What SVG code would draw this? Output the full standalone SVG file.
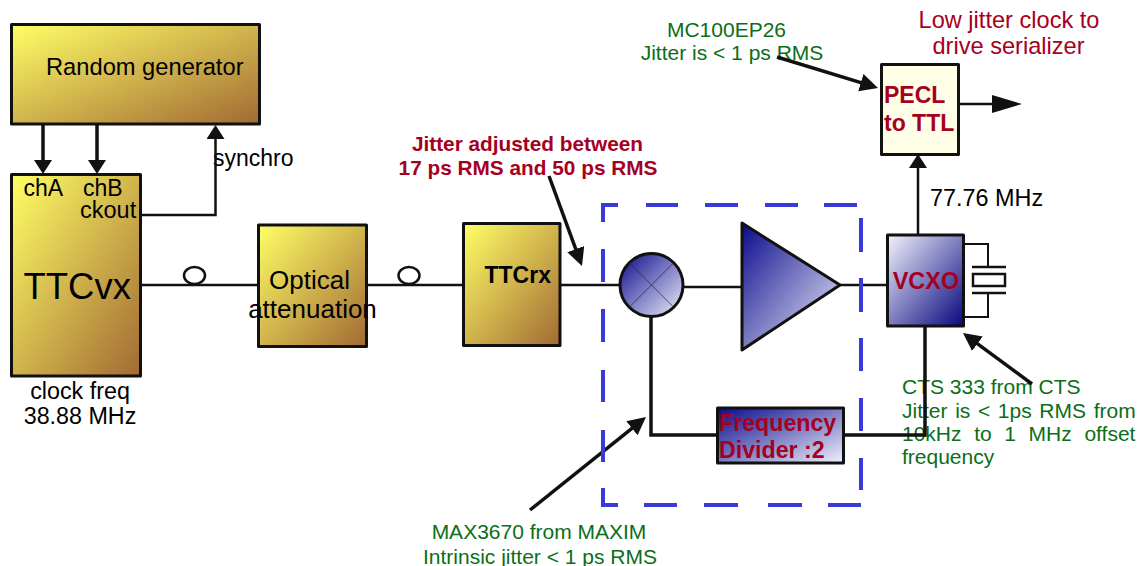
<svg xmlns="http://www.w3.org/2000/svg" width="1146" height="566" viewBox="0 0 1146 566">
<style>
text{font-family:"Liberation Sans",Arial,sans-serif;fill:#000}
.c{text-anchor:middle}
.g{fill:#0b6e18;font-size:21px}
.r{fill:#a50021}
.b{font-weight:bold}
.box{stroke:#111;stroke-width:3;stroke-linejoin:round}
.l2{fill:none;stroke:#111;stroke-width:2.5}
.l3{fill:none;stroke:#111;stroke-width:3.5}
.d{fill:none;stroke:#3a3ad8;stroke-width:4}
</style>
<defs>
<linearGradient id="gold" x1="0" y1="0" x2="1" y2="1"><stop offset="0" stop-color="#ffff66"/><stop offset="1" stop-color="#a26a33"/></linearGradient>
<linearGradient id="dk" x1="0" y1="0" x2="1" y2="1"><stop offset="0" stop-color="#0a0a8c"/><stop offset="1" stop-color="#f0f0fc"/></linearGradient>
<linearGradient id="lt" x1="0" y1="0" x2="1" y2="1"><stop offset="0" stop-color="#f4f4fe"/><stop offset="1" stop-color="#06067f"/></linearGradient>
<marker id="a" markerUnits="userSpaceOnUse" markerWidth="18" markerHeight="20" refX="8" refY="9" orient="auto"><path d="M0 0L14 9L0 18Z" fill="#111"/></marker>
<marker id="d" markerUnits="userSpaceOnUse" markerWidth="20" markerHeight="20" refX="12" refY="9" orient="auto"><path d="M0 0L18 9L0 18Z" fill="#111"/></marker>
<marker id="bigA" markerUnits="userSpaceOnUse" markerWidth="32" markerHeight="20" refX="22" refY="9" orient="auto"><path d="M0 0L30 9L0 18Z" fill="#111"/></marker>
</defs>

<g id="annotations">
<text class="g c" x="726.500" y="37">MC100EP26</text>
<text class="g c" x="732" y="60">Jitter is &lt; 1 ps RMS</text>
<text class="r c" font-size="23.600" x="1009" y="28">Low jitter clock to</text>
<text class="r c" font-size="23.600" x="1008.500" y="54">drive serializer</text>
<text class="r b c" font-size="20.800" x="527.500" y="151">Jitter adjusted between</text>
<text class="r b c" font-size="20.800" x="528" y="175">17 ps RMS and 50 ps RMS</text>
<text font-size="23.400" x="930" y="206">77.76 MHz</text>
<text font-size="23" x="213" y="166">synchro</text>
<text class="c" font-size="23.300" x="80" y="399">clock freq</text>
<text class="c" font-size="23.300" x="80" y="424">38.88 MHz</text>
<text class="g" x="902" y="394">CTS 333 from CTS</text>
<text class="g" x="902" y="418" word-spacing="1.800">Jitter is &lt; 1ps RMS from</text>
<text class="g" x="902" y="441" word-spacing="6.800">10kHz to 1 MHz offset</text>
<text class="g" x="902" y="464">frequency</text>
<text class="g c" x="539" y="539">MAX3670 from MAXIM</text>
<text class="g c" x="540" y="564">Intrinsic jitter &lt; 1 ps RMS</text>
</g>

<g id="connectors">
<path class="l3" d="M43 124V168" marker-end="url(#a)"/>
<path class="l3" d="M97 124V168" marker-end="url(#a)"/>
<path class="l2" d="M141 215H215.500V131" marker-end="url(#a)"/>
<path class="l2" d="M141 285H258"/>
<ellipse cx="194.500" cy="275.500" rx="10.500" ry="8.500" fill="#fff" stroke="#111" stroke-width="2.500"/>
<path class="l2" d="M366 285H463"/>
<ellipse cx="409" cy="275.500" rx="10.500" ry="8.500" fill="#fff" stroke="#111" stroke-width="2.500"/>
<path class="l2" d="M560 285H620"/>
<path class="l2" d="M684 287H742"/>
<path class="l2" d="M840 285H887"/>
<path class="l3" d="M651 316V435H717"/>
<path class="l3" d="M844 435H925V326"/>
<path class="l2" d="M918 235V160" marker-end="url(#a)"/>
<path class="l2" d="M958 104H1014" marker-end="url(#bigA)"/>
<path class="l3" d="M777 57L872.300 86.200" marker-end="url(#d)"/>
<path class="l3" d="M549 176L579.900 260.400" marker-end="url(#d)"/>
<path class="l3" d="M1032 384L967.800 336.600" marker-end="url(#d)"/>
<path class="l3" d="M530 510L641.300 420.800" marker-end="url(#d)"/>
</g>

<g id="dashed-box">
<path class="d" d="M603 222V205H618M646 205H678M705 205H738M765 205H798M824 205H857"/>
<path class="d" d="M861 218V252M861 278V312M861 338V371M861 398V431M861 458V490"/>
<path class="d" d="M603 488V505H618M644 505H677M704 505H738M768 505H802M828 505H861"/>
<path class="d" d="M603 249V282M603 309V342M603 370V402M603 430V462"/>
</g>

<g id="random-generator"><rect class="box" x="11.500" y="24.500" width="248" height="99.500" fill="url(#gold)"/><text font-size="23.700" x="46" y="75">Random generator</text></g>
<g id="ttcvx"><rect class="box" x="11.500" y="174.500" width="129" height="201.500" fill="url(#gold)"/>
<text font-size="23" x="23.500" y="196">chA</text><text font-size="23" x="83" y="196">chB</text><text font-size="23.500" x="80" y="218">ckout</text><text font-size="36.500" x="23.500" y="299">TTCvx</text></g>
<g id="optical-attenuation"><rect class="box" x="258.500" y="225" width="108" height="121.500" fill="url(#gold)"/><text class="c" font-size="26" x="309.500" y="289">Optical</text><text class="c" font-size="26" x="312.500" y="318">attenuation</text></g>
<g id="ttcrx"><rect class="box" x="463.500" y="223.500" width="96.500" height="122" fill="url(#gold)"/><text class="b" font-size="23" x="484.500" y="283">TTCrx</text></g>
<g id="mixer"><circle cx="651.500" cy="285" r="31.500" fill="url(#dk)" stroke="#111" stroke-width="3"/><path d="M629.500 263L673.500 307M673.500 263L629.500 307" fill="none" stroke="#223" stroke-width=".7"/></g>
<g id="amplifier"><path d="M742 223L840 285L742 350Z" fill="url(#dk)" stroke="#111" stroke-width="3" stroke-linejoin="round"/></g>
<g id="vcxo"><rect class="box" x="887.500" y="235" width="76" height="91" fill="url(#lt)"/><text class="r b c" font-size="23.500" x="926" y="289">VCXO</text></g>
<g id="crystal"><path class="l2" d="M964 244H988V267M964 317H988V293" style="stroke-width:2"/><path class="l2" d="M972 267H1006M972 293H1006"/><rect x="973" y="274" width="32" height="12" fill="#fff" stroke="#111" stroke-width="2.500"/></g>
<g id="frequency-divider"><rect class="box" x="717.500" y="408" width="126" height="55" fill="url(#dk)"/><text class="r b" font-size="23.200" x="719" y="431">Frequency</text><text class="r b" font-size="23.200" x="719" y="458">Divider :2</text></g>
<g id="pecl-to-ttl"><rect class="box" x="881.500" y="64.500" width="77" height="90" fill="#ffffe8"/><text class="r b" font-size="23" x="884" y="103">PECL</text><text class="r b" font-size="23" x="884" y="131">to TTL</text></g>
</svg>
